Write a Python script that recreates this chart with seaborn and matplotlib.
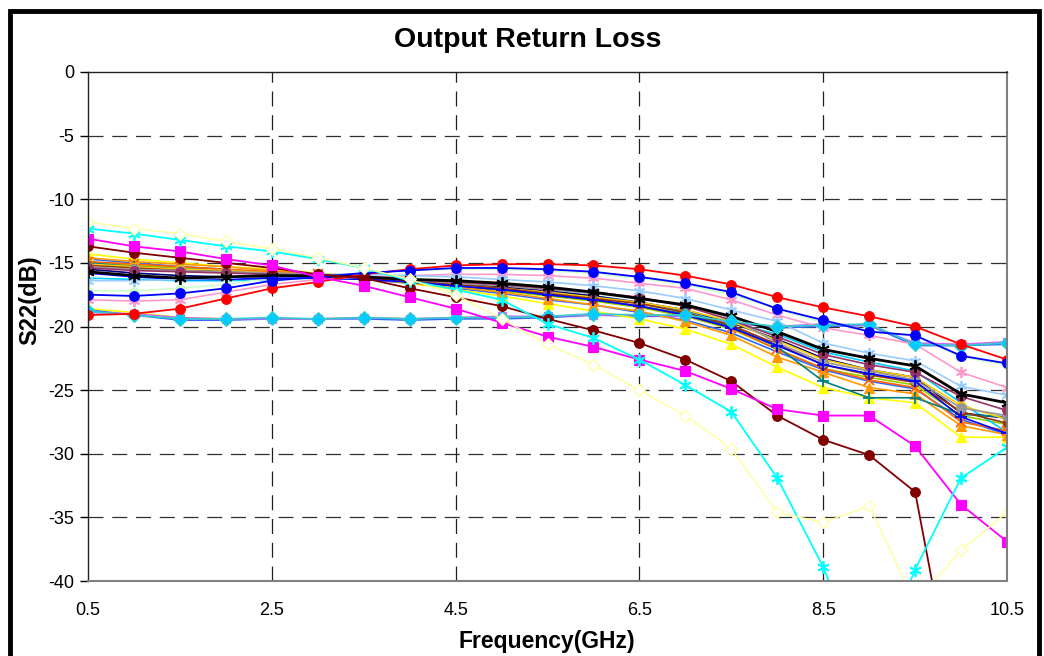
import matplotlib
matplotlib.use("Agg")
import matplotlib.pyplot as plt
from matplotlib.patches import Rectangle
import seaborn as sns
import numpy as np

sns.set_theme(style="white")
plt.rcParams['font.family'] = ['Liberation Sans', 'DejaVu Sans']
plt.rcParams['axes.unicode_minus'] = False
plt.rcParams['text.color'] = 'black'
plt.rcParams['axes.labelcolor'] = 'black'

freq = [0.5, 1.0, 1.5, 2.0, 2.5, 3.0, 3.5, 4.0, 4.5, 5.0, 5.5,
        6.0, 6.5, 7.0, 7.5, 8.0, 8.5, 9.0, 9.5, 10.0, 10.5]

# ---- distinct series ----
red_circle = [-19.1, -19.0, -18.6, -17.8, -17.0, -16.5, -15.9, -15.5, -15.2, -15.1, -15.1,
              -15.2, -15.5, -16.0, -16.7, -17.7, -18.5, -19.2, -20.0, -21.4, -22.6]
blue_circle = [-17.5, -17.6, -17.4, -17.0, -16.4, -16.1, -15.8, -15.6, -15.4, -15.4, -15.5,
               -15.7, -16.1, -16.6, -17.3, -18.6, -19.5, -20.4, -20.7, -22.3, -22.9]
light_green = [-17.2, -17.2, -17.0, -16.7, -16.2, -16.0, -15.8, -15.6, -15.5, -15.5, -15.6,
               -15.8, -16.2, -16.7, -17.5, -18.6, -19.7, -20.3, -20.7, -22.4, -23.0]
yellow_diamond = [-11.8, -12.3, -12.7, -13.3, -13.9, -14.6, -15.4, -16.3, -17.5, -19.4, -21.4,
                  -23.0, -25.0, -27.0, -29.6, -34.6, -35.4, -34.1, -41.7, -37.6, -34.6]
cyan_star = [-12.3, -12.7, -13.2, -13.7, -14.1, -14.7, -15.4, -16.4, -17.1, -17.9, -19.8,
             -20.9, -22.6, -24.6, -26.7, -31.9, -38.9, -48.0, -39.1, -31.9, -29.5]
magenta_square = [-13.1, -13.7, -14.1, -14.7, -15.2, -16.1, -16.8, -17.7, -18.6, -19.7, -20.8,
                  -21.6, -22.6, -23.5, -24.9, -26.5, -27.0, -27.0, -29.4, -34.0, -36.9]
maroon_circle = [-13.7, -14.2, -14.6, -15.0, -15.4, -15.9, -16.2, -17.0, -17.7, -18.4, -19.4,
                 -20.3, -21.3, -22.6, -24.3, -27.0, -28.9, -30.1, -33.0, -52.0, -55.0]
flat_diamond = [-18.8, -19.1, -19.4, -19.4, -19.3, -19.4, -19.3, -19.4, -19.3, -19.3, -19.2,
                -19.0, -19.1, -19.1, -19.6, -20.0, -19.9, -19.8, -21.4, -21.5, -21.3]
flat_lavender = [-18.9, -19.0, -19.3, -19.4, -19.4, -19.4, -19.3, -19.4, -19.3, -19.2, -19.2,
                 -19.1, -19.1, -19.2, -19.7, -20.0, -19.8, -19.9, -21.3, -21.4, -21.2]
flat_blue = [-18.7, -19.1, -19.5, -19.5, -19.4, -19.4, -19.4, -19.5, -19.4, -19.4, -19.3,
             -19.1, -19.2, -19.2, -19.7, -20.1, -20.0, -19.9, -21.5, -21.5, -21.4]
flat_yellow = [-18.6, -18.9, -19.3, -19.4, -19.4, -19.4, -19.3, -19.4, -19.3, -19.3, -19.2,
               -19.1, -19.1, -19.2, -19.7, -20.1, -19.9, -19.9, -21.4, -21.4, -21.3]

# ---- central bundle ----
yellow_tri = [-14.3, -14.7, -15.0, -15.3, -15.5, -15.8, -16.1, -16.6, -17.1, -17.6, -18.2,
              -18.8, -19.4, -20.2, -21.4, -23.2, -24.8, -25.6, -26.0, -28.7, -28.7]
orange_tri = [-14.6, -14.9, -15.1, -15.3, -15.6, -15.9, -16.2, -16.6, -16.9, -17.3, -17.8,
              -18.3, -18.8, -19.6, -20.7, -22.4, -23.6, -24.8, -25.3, -27.8, -28.5]
orange_x = [-14.9, -15.1, -15.3, -15.5, -15.7, -15.9, -16.1, -16.5, -16.8, -17.1, -17.5,
            -17.9, -18.4, -19.1, -20.1, -21.8, -23.3, -24.2, -24.8, -27.5, -28.2]
royal_line = [-14.7, -15.0, -15.3, -15.5, -15.8, -16.0, -16.3, -16.6, -17.0, -17.4, -17.9,
              -18.3, -18.9, -19.5, -20.5, -22.0, -23.4, -24.3, -24.9, -27.3, -28.5]
teal_plus = [-15.0, -15.3, -15.5, -15.7, -15.9, -16.0, -16.2, -16.5, -16.8, -17.1, -17.5,
             -17.9, -18.4, -19.0, -20.0, -21.6, -24.3, -25.6, -25.6, -26.9, -27.1]
gold_circle = [-15.1, -15.3, -15.5, -15.6, -15.8, -15.9, -16.1, -16.4, -16.7, -17.0, -17.3,
               -17.7, -18.1, -18.7, -19.6, -21.1, -22.6, -23.4, -24.0, -26.2, -27.3]
grey_circle = [-15.3, -15.5, -15.6, -15.7, -15.8, -15.9, -16.1, -16.3, -16.6, -16.8, -17.1,
               -17.4, -17.8, -18.4, -19.3, -21.3, -22.8, -23.5, -24.2, -26.4, -27.0]
plum_circle = [-15.4, -15.6, -15.7, -15.8, -15.9, -16.0, -16.1, -16.3, -16.5, -16.7, -17.0,
               -17.3, -17.7, -18.4, -19.5, -20.8, -22.2, -23.0, -23.6, -25.5, -26.6]
brown_circle = [-15.2, -15.4, -15.6, -15.7, -15.9, -16.0, -16.2, -16.4, -16.7, -17.0, -17.4,
                -17.8, -18.2, -18.9, -19.9, -21.4, -23.0, -23.8, -24.4, -26.7, -27.6]
olive_line = [-15.0, -15.2, -15.4, -15.6, -15.8, -16.0, -16.2, -16.5, -16.8, -17.2, -17.6,
              -18.0, -18.5, -19.2, -20.2, -21.8, -23.3, -24.0, -24.6, -27.0, -27.7]
navy_line = [-15.5, -15.8, -16.0, -16.1, -16.1, -16.1, -16.2, -16.4, -16.6, -16.9, -17.2,
             -17.6, -18.1, -18.7, -19.7, -21.0, -22.5, -23.4, -24.0, -26.8, -27.2]
blue_plus = [-15.8, -16.1, -16.3, -16.3, -16.2, -16.2, -16.3, -16.5, -16.8, -17.1, -17.5,
             -17.9, -18.4, -19.1, -20.1, -21.5, -23.0, -23.7, -24.3, -27.1, -28.4]
sky_line = [-16.2, -16.3, -16.4, -16.4, -16.3, -16.2, -16.3, -16.4, -16.6, -16.9, -17.2,
            -17.6, -18.1, -18.8, -19.7, -20.6, -22.0, -22.8, -23.5, -26.0, -28.3]
black_star = [-15.7, -16.0, -16.2, -16.1, -16.0, -16.0, -16.1, -16.3, -16.4, -16.6, -16.9,
              -17.3, -17.8, -18.3, -19.2, -20.4, -21.8, -22.5, -23.1, -25.3, -26.0]
lightblue_star = [-16.4, -16.4, -16.3, -16.2, -16.0, -15.9, -15.9, -16.0, -16.1, -16.3, -16.5,
                  -16.8, -17.2, -17.8, -18.7, -19.6, -21.3, -22.1, -22.7, -24.7, -25.4]
rose_star = [-17.9, -18.0, -17.9, -17.3, -16.7, -16.3, -16.1, -16.0, -15.9, -15.9, -16.0,
             -16.2, -16.6, -17.0, -17.9, -19.1, -20.1, -20.7, -21.4, -23.6, -24.8]

x_tick_labels = ['0.5', '2.5', '4.5', '6.5', '8.5', '10.5']

ASTER = (6, 2, 0)
# (values, color, marker, facecolor, lw, ms)
series = [
    (olive_line, '#99CC00', None, None, 1.2, 0),
    (royal_line, '#3366FF', None, None, 1.2, 0),
    (sky_line, '#00CCFF', None, None, 1.2, 0),
    (navy_line, '#000080', None, None, 1.2, 0),
    (light_green, '#CCFFCC', 'o', '#CCFFCC', 1.2, 6),
    (flat_yellow, '#FFFF00', None, None, 1.2, 0),
    (flat_blue, '#3366FF', None, None, 1.2, 0),
    (flat_lavender, '#CC66FF', 's', '#CC99FF', 1.2, 6),
    (yellow_tri, '#FFFF00', '^', '#FFFF00', 1.2, 7),
    (orange_tri, '#FF9900', '^', '#FF9900', 1.2, 7),
    (orange_x, '#FF6600', 'x', None, 1.2, 7),
    (teal_plus, '#008080', '+', None, 1.2, 8),
    (gold_circle, '#FFCC00', 'o', '#FFCC00', 1.2, 6),
    (brown_circle, '#993300', 'o', '#993300', 1.2, 6),
    (grey_circle, '#969696', 'o', '#969696', 1.2, 7),
    (plum_circle, '#993366', 'o', '#993366', 1.2, 7),
    (blue_plus, '#0000FF', '+', None, 1.2, 8),
    (rose_star, '#FF99CC', ASTER, None, 1.2, 8),
    (lightblue_star, '#99CCFF', ASTER, None, 1.2, 8),
    (black_star, '#000000', ASTER, None, 2.0, 9),
    (flat_diamond, '#33CCCC', 'D', '#00CCFF', 1.2, 7),
    (red_circle, '#FF0000', 'o', '#FF0000', 1.3, 7),
    (blue_circle, '#0000FF', 'o', '#0000FF', 1.3, 7),
    (maroon_circle, '#800000', 'o', '#800000', 1.3, 7),
    (magenta_square, '#FF00FF', 's', '#FF00FF', 1.3, 7),
    (cyan_star, '#00FFFF', ASTER, None, 1.3, 9),
    (yellow_diamond, '#FFFF99', 'D', '#FFFFFF', 1.0, 6),
]

fig = plt.figure(figsize=(10.44, 6.56), dpi=100)
ax = fig.add_axes([88/1044, 1 - 581/656, (1007-88)/1044, (581-72)/656])

for vals, col, mk, fc, lw, ms in series:
    kw = dict(color=col, linewidth=lw, ax=ax, legend=False)
    if mk is not None:
        kw.update(marker=mk, markersize=ms, markeredgecolor=col,
                  markerfacecolor=(fc if fc is not None else col),
                  markeredgewidth=(1.3 if fc is None else 0.8))
    sns.lineplot(x=freq, y=vals, **kw)

ax.set_xlim(0.5, 10.5)
ax.set_ylim(-40, 0)
ax.set_xticks([0.5, 2.5, 4.5, 6.5, 8.5, 10.5])
ax.set_xticklabels(x_tick_labels)
ax.set_yticks(list(range(-40, 1, 5)))
ax.tick_params(axis='x', length=0, labelsize=13, pad=15, colors='black')
ax.tick_params(axis='y', length=6, width=1, direction='out', labelsize=13, pad=4,
               colors='black', left=True)

for g in [2.5, 4.5, 6.5, 8.5]:
    ax.axvline(g, color='#202020', linewidth=0.9, dashes=(12, 7), zorder=0)
for g in range(-35, 0, 5):
    ax.axhline(g, color='#303030', linewidth=0.9, dashes=(12, 7), zorder=0)

for side in ['left', 'top']:
    ax.spines[side].set_color('#222222')
    ax.spines[side].set_linewidth(1.0)
for side in ['right', 'bottom']:
    ax.spines[side].set_color('#808080')
    ax.spines[side].set_linewidth(1.5)

ax.set_xlabel('Frequency(GHz)', fontsize=16.5, fontweight='bold', color='black')
ax.set_ylabel('S22(dB)', fontsize=17, fontweight='bold', color='black')
ax.xaxis.set_label_coords((547-88)/919, -(630-581)/509)
ax.yaxis.set_label_coords(-(88-41)/919, 0.552)

fig.text(528/1044, 1 - 40/656, 'Output Return Loss', ha='center', va='center',
         fontsize=20.5, fontweight='bold', color='black')

fig.patches.append(Rectangle((10/1044, -0.1), (1039-10)/1044, (656-11)/656 + 0.1,
                             transform=fig.transFigure, fill=False, edgecolor='black',
                             linewidth=3.5, clip_on=False))

fig.savefig('out.png', dpi=100)
